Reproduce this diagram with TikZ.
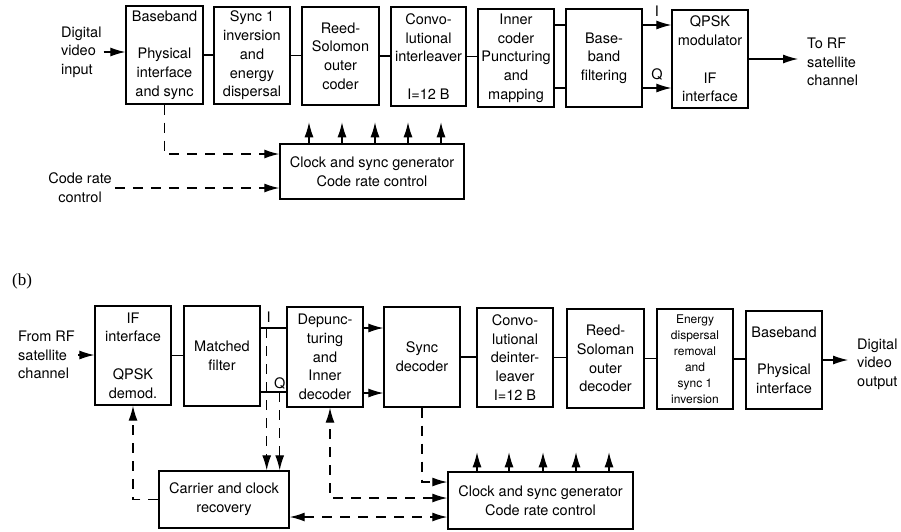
\documentclass[tikz,border=0pt]{standalone}
\usepackage{fontspec}
\setmainfont{TeX Gyre Heros}
\newfontfamily\serifb{Liberation Serif}
\usetikzlibrary{arrows.meta,calc}
\newcommand\bxf{\fontsize{14.5}{18.7}\selectfont}
\newcommand\smf{\fontsize{12}{16}\selectfont}
\begin{document}
\begin{tikzpicture}[x=1pt,y=-1pt,
 blk/.style={draw, line width=1.4pt, inner sep=0pt, align=center, font=\bxf},
 wh/.style 2 args={minimum width=#1pt, minimum height=#2pt},
 lbl/.style={inner sep=0pt, align=left, font=\bxf},
 conn/.style={line width=1.1pt},
 arr/.style={line width=1.1pt, -{Latex[length=15pt,width=9pt]}},
 darr/.style={line width=1.3pt, dash pattern=on 10pt off 8pt, -{Latex[length=15pt,width=9pt]}},
 darrb/.style={line width=1.3pt, dash pattern=on 10pt off 8pt, {Latex[length=15pt,width=9pt]}-{Latex[length=15pt,width=9pt]}},
]
\useasboundingbox[fill=white] (0,0) rectangle (901,531);

% ---------- (a) ----------
\node[blk, wh={77}{98}] (a1) at (164.5,55) {Baseband\\[18.7pt]Physical\\interface\\and sync};
\node[blk, wh={76}{97}] (a2) at (252,55.5) {Sync 1\\inversion\\and\\energy\\dispersal};
\node[blk, wh={77}{98}] (a3) at (340.5,56) {Reed-\\Solomon\\outer\\coder};
\node[blk, wh={75}{99}] (a4) at (428.5,56.5) {Convo-\\lutional\\interleaver\\[18.7pt]I=12 B};
\node[blk, wh={76}{98}] (a5) at (516,58) {Inner\\coder\\Puncturing\\and\\mapping};
\node[blk, wh={76}{98}] (a6) at (604,58) {Base-\\band\\filtering};
\node[blk, wh={76}{98}] (a7) at (710,59) {QPSK\\modulator\\[18.7pt]IF\\interface};
\node[blk, wh={184}{55}] (ca) at (372,171.5) {Clock and sync generator\\Code rate control};

\node[lbl, anchor=west] (vin) at (61,52) {Digital\\video\\input};
\node[lbl, align=center] (crc) at (80,188) {Code rate\\control};
\node[lbl, anchor=west] (torf) at (807,62) {To RF\\satellite\\channel};

\draw[arr, shorten <=2pt] (vin.east) -- (vin.east -| a1.west);
\draw[conn] (a1.east) -- (a1.east -| a2.west);
\draw[conn] (a2.east) -- (a2.east -| a3.west);
\draw[conn] (a3.east) -- (a3.east -| a4.west);
\draw[conn] (a4.east) -- (a4.east -| a5.west);
\draw[conn] ([yshift=33pt]a5.east) -- ([yshift=33pt]a5.east -| a6.west);
\draw[conn] ([yshift=-30pt]a5.east) -- ([yshift=-30pt]a5.east -| a6.west);
\draw[arr] ([yshift=33pt]a6.east) -- node[above=8pt, inner sep=0pt, font=\bxf] (li1) {I} ([yshift=33pt]a6.east -| a7.west);
\draw[arr] ([yshift=-30pt]a6.east) -- node[above=7pt, inner sep=0pt, font=\bxf] (lq1) {Q} ([yshift=-30pt]a6.east -| a7.west);
\draw[arr, shorten >=9pt] (a7.east) -- (a7.east -| torf.west);

\foreach \x in {309,342,375,408,441}
  \draw[arr] (ca.north -| \x,0) -- ++(0,-21);
\draw[darr] (a1.south) |- ([yshift=17.5pt]ca.west);
\draw[darr, shorten <=3pt] (crc.east) -- (crc.east -| ca.west);

% ---------- (b) ----------
\node[inner sep=0pt, font=\serifb\fontsize{17}{20}\selectfont] (lb) at (22,281) {(b)};
\node[lbl, anchor=west] (frf) at (18,355) {From RF\\satellite\\channel};
\node[blk, wh={76}{99}] (b1) at (133,355.5) {IF\\interface\\[18.7pt]QPSK\\demod.};
\node[blk, wh={76}{100}] (b2) at (222,356) {Matched\\filter};
\node[blk, wh={76}{100}] (b3) at (325,357) {Depunc-\\turing\\and\\Inner\\decoder};
\node[blk, wh={76}{100}] (b4) at (422,357) {Sync\\decoder};
\node[blk, wh={76}{99}] (b5) at (515,357.5) {Convo-\\lutional\\deinter-\\leaver\\I=12 B};
\node[blk, wh={77}{99}] (b6) at (605.5,358.5) {Reed-\\Soloman\\outer\\decoder};
\node[blk, wh={76}{100}, font=\smf] (b7) at (695,359) {Energy\\dispersal\\removal\\and\\sync 1\\inversion};
\node[blk, wh={76}{98}] (b8) at (784,360) {Baseband\\[18.7pt]Physical\\interface};
\node[blk, wh={130}{57}] (cr) at (224,499.5) {Carrier and clock\\recovery};
\node[blk, wh={185}{57}] (cb) at (540.5,500.5) {Clock and sync generator\\Code rate control};
\node[lbl, anchor=west] (dvo) at (857,364) {Digital\\video\\output};

\draw[arr, shorten <=3pt] (frf.east) -- (frf.east -| b1.west);
\draw[conn] (b1.east) -- (b1.east -| b2.west);
\draw[conn] ([yshift=28pt]b2.east) -- ([yshift=28pt]b2.east -| b3.west);
\draw[conn] ([yshift=-36pt]b2.east) -- ([yshift=-36pt]b2.east -| b3.west);
\coordinate (ti) at ($(b2.east)+(6,-28)$);
\coordinate (tq) at ($(b2.east)+(19,36)$);
\node[anchor=south, inner sep=0pt, font=\bxf] (li2) at ([xshift=2pt,yshift=5pt]ti) {I};
\node[anchor=south, inner sep=0pt, font=\bxf] (lq2) at ([yshift=3pt]tq) {Q};
\draw[arr] ([yshift=29pt]b3.east) -- ([yshift=29pt]b3.east -| b4.west);
\draw[arr] ([yshift=-36pt]b3.east) -- ([yshift=-36pt]b3.east -| b4.west);
\draw[conn] (b4.east) -- (b4.east -| b5.west);
\draw[conn] (b5.east) -- (b5.east -| b6.west);
\draw[conn] (b6.east) -- (b6.east -| b7.west);
\draw[conn] (b7.east) -- (b7.east -| b8.west);
\draw[arr, shorten >=9pt] (b8.east) -- (b8.east -| dvo.west);

\draw[darr] (ti) -- (ti |- cr.north);
\draw[darr] (tq) -- (tq |- cr.north);
\draw[darr] (cr.west) -| (b1.south);
\draw[darrb] ([yshift=2.5pt]cb.west) -| ([xshift=5pt]b3.south);
\draw[darr] (b4.south) |- ([yshift=18.5pt]cb.west);
\draw[darrb] ([yshift=-17.5pt]cr.east) -- ([yshift=-17.5pt]cr.east -| cb.west);
\foreach \x in {477,509,543,576,609}
  \draw[arr] (cb.north -| \x,0) -- ++(0,-19);
\end{tikzpicture}
\end{document}
